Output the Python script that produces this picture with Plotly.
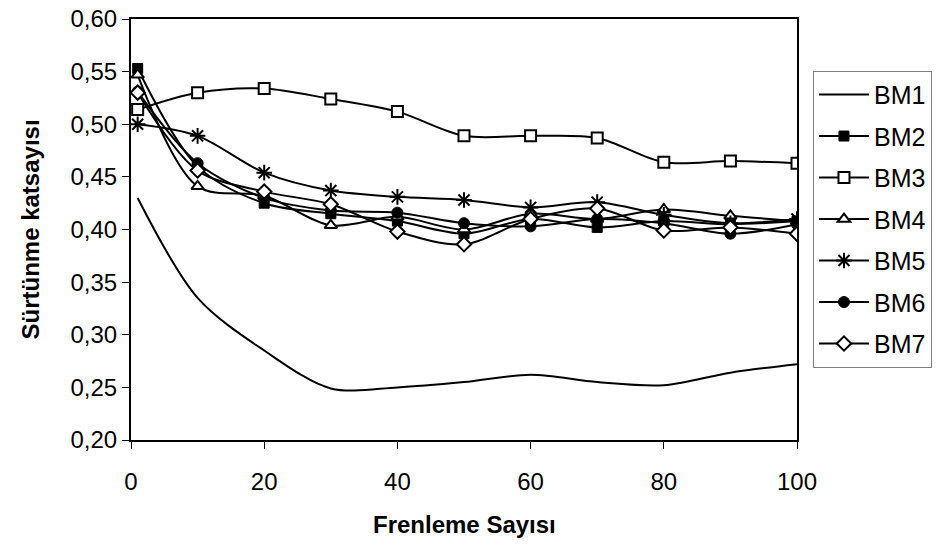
import plotly.graph_objects as go

x_vals = [1, 10, 20, 30, 40, 50, 60, 70, 80, 90, 100]

bm1 = [0.430, 0.335, 0.285, 0.249, 0.250, 0.255, 0.262, 0.255, 0.252, 0.264, 0.272]
bm2 = [0.553, 0.460, 0.425, 0.415, 0.408, 0.396, 0.410, 0.402, 0.408, 0.405, 0.408]
bm3 = [0.514, 0.530, 0.534, 0.524, 0.512, 0.489, 0.489, 0.487, 0.464, 0.465, 0.463]
bm4 = [0.547, 0.441, 0.432, 0.404, 0.412, 0.400, 0.415, 0.410, 0.419, 0.413, 0.408]
bm5 = [0.500, 0.489, 0.454, 0.437, 0.431, 0.428, 0.421, 0.426, 0.414, 0.406, 0.410]
bm6 = [0.531, 0.463, 0.430, 0.418, 0.416, 0.406, 0.403, 0.410, 0.406, 0.396, 0.405]
bm7 = [0.530, 0.456, 0.436, 0.424, 0.398, 0.386, 0.410, 0.420, 0.399, 0.402, 0.396]

y_ticks = [0.20, 0.25, 0.30, 0.35, 0.40, 0.45, 0.50, 0.55, 0.60]
x_ticks = [0, 20, 40, 60, 80, 100]

FONT = "Liberation Sans, Arial, sans-serif"

series = [
    ("BM1", bm1, None),
    ("BM2", bm2, dict(symbol="square", size=10, color="black", line=dict(color="black", width=1))),
    ("BM3", bm3, dict(symbol="square", size=11, color="white", line=dict(color="black", width=2))),
    ("BM4", bm4, dict(symbol="triangle-up", size=11, color="white", line=dict(color="black", width=2))),
    ("BM5", bm5, dict(symbol="asterisk-open", size=13, color="black", line=dict(color="black", width=2))),
    ("BM6", bm6, dict(symbol="circle", size=11, color="black", line=dict(color="black", width=1))),
    ("BM7", bm7, dict(symbol="diamond", size=11, color="white", line=dict(color="black", width=2))),
]

fig = go.Figure()
for name, vals, mk in series:
    fig.add_trace(go.Scatter(
        x=x_vals, y=vals, name=name, legendgroup=name,
        mode="lines" if mk is None else "lines+markers",
        line=dict(color="black", width=2, shape="spline", smoothing=0.9),
        marker=mk,
    ))

fig.update_layout(
    width=939, height=546,
    margin=dict(l=131, r=142, t=19, b=106, autoexpand=False),
    paper_bgcolor="white", plot_bgcolor="white",
    separators=",.",
    font=dict(family=FONT, size=24, color="black"),
    showlegend=True,
    legend=dict(
        x=1.024, xanchor="left", y=0.877, yanchor="top",
        bordercolor="#808080", borderwidth=1, bgcolor="white",
        font=dict(family=FONT, size=25, color="black"),
        traceorder="grouped", tracegroupgap=6, itemwidth=50,
    ),
    xaxis=dict(
        range=[0, 100], tickvals=x_ticks, showgrid=False, zeroline=False,
        showline=True, linecolor="black", linewidth=2, mirror=True,
        ticks="outside", ticklen=7, tickwidth=1, tickcolor="black",
        tickfont=dict(family=FONT, size=24), ticklabelstandoff=12,
    ),
    yaxis=dict(
        range=[0.20, 0.60], tickvals=y_ticks, tickformat=".2f", showgrid=False, zeroline=False,
        showline=True, linecolor="black", linewidth=2, mirror=True,
        ticks="outside", ticklen=7, tickwidth=1, tickcolor="black",
        tickfont=dict(family=FONT, size=24),
    ),
    annotations=[
        dict(text="<b>Frenleme Sayısı</b>", x=0.5, y=0, xref="paper", yref="paper",
             xanchor="center", yanchor="middle", yshift=-84, showarrow=False,
             font=dict(family=FONT, size=24)),
        dict(text="<b>Sürtünme katsayısı</b>", x=0, y=0.5, xref="paper", yref="paper",
             xanchor="center", yanchor="middle", xshift=-101, textangle=-90, showarrow=False,
             font=dict(family=FONT, size=24)),
    ],
)

fig.write_html("out.html")
